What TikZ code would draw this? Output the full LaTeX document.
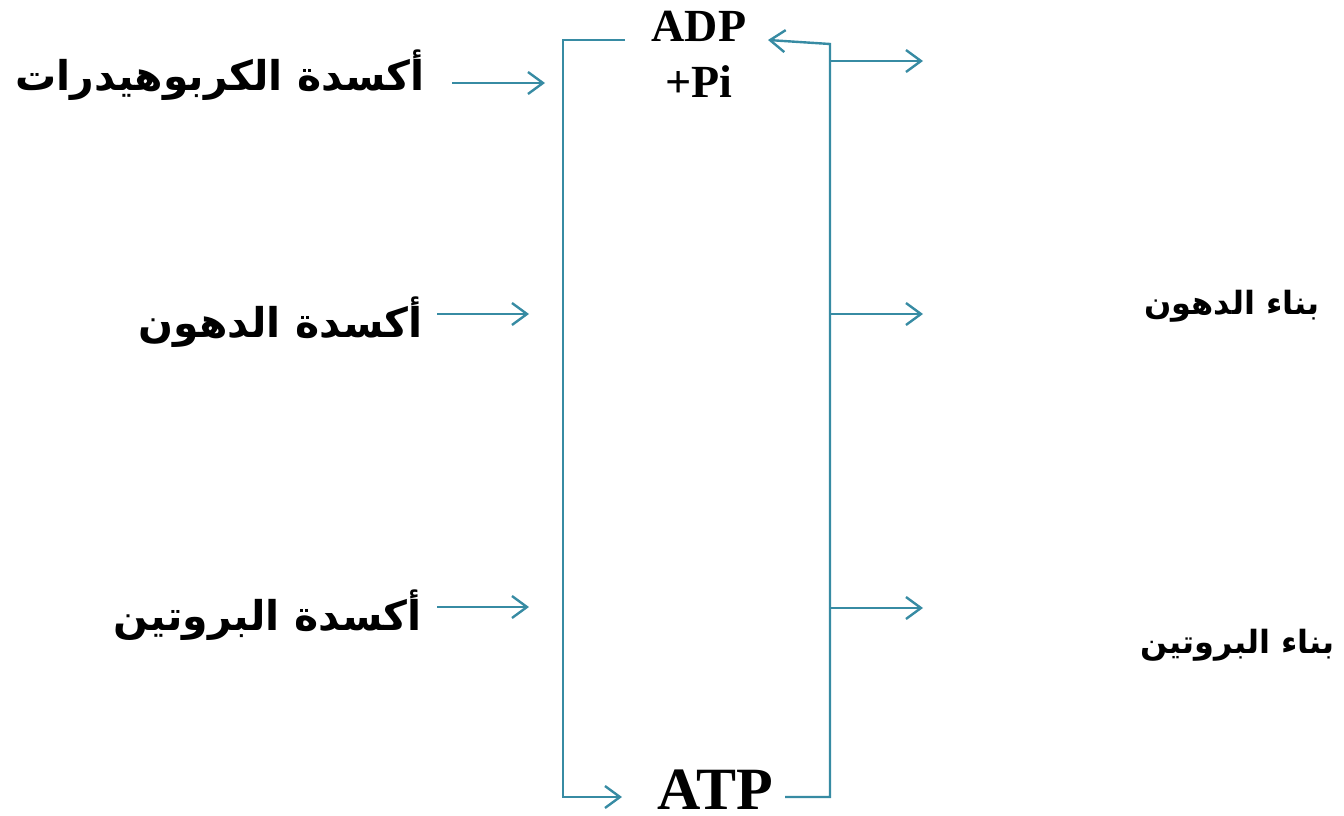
\documentclass[tikz,border=0pt]{standalone}
\usepackage{fontspec}
\setmainfont{Liberation Serif}
\newfontfamily\arabicfont[Script=Arabic]{DejaVu Sans}
\usetikzlibrary{arrows.meta}
\TeXXeTstate=1
\definecolor{teal1}{RGB}{55,139,163}
\tikzset{
  conn/.style={draw=teal1, line width=2.4pt},
  arr/.style={conn, -{Straight Barb[length=15pt,width=22pt,line width=2.4pt]}},
  arlab/.style={font=\arabicfont\bfseries\fontsize{41}{44}\selectfont, inner sep=0pt},
  arsmall/.style={font=\arabicfont\bfseries\fontsize{32}{34}\selectfont, inner sep=0pt},
  enlab/.style={font=\bfseries\fontsize{46}{50}\selectfont, inner sep=0pt},
}
\begin{document}
\begin{tikzpicture}[x=1pt,y=-1pt]
\useasboundingbox (0,0) rectangle (1344,816);
% labels
\node[arlab, anchor=east] (carb) at (425,75) {\beginR أكسدة الكربوهيدرات\endR};
\node[arlab, anchor=east] (fat) at (423,322) {\beginR أكسدة الدهون\endR};
\node[arlab, anchor=east] (prot) at (422,615) {\beginR أكسدة البروتين\endR};
\node[arsmall, anchor=east] (bfat) at (1320,306) {\beginR بناء الدهون\endR};
\node[arsmall, anchor=east] (bprot) at (1335,645) {\beginR بناء البروتين\endR};
\node[enlab] (adp) at (699,26) {ADP};
\node[enlab] (pi) at (699,82) {+Pi};
\node[font=\bfseries\fontsize{60}{64}\selectfont, inner sep=0pt, anchor=base] (atp) at (715,809) {ATP};
% coordinates
\coordinate (lt) at (625,40);
\coordinate (ltc) at (563,40);
\coordinate (lbc) at (563,797);
\coordinate (lb) at (622,797);
\coordinate (rt) at (830,44);
\coordinate (rtip) at (768,40);
\coordinate (rbc) at (830,797);
\coordinate (rb) at (785,797);
\coordinate (r1) at (830,61);
\coordinate (r2) at (830,314);
\coordinate (r3) at (830,608);
\coordinate (e1) at (923,61);
\coordinate (e2) at (923,314);
\coordinate (e3) at (923,608);
\coordinate (l1s) at (452,83);
\coordinate (l1e) at (545,83);
\coordinate (l2s) at (437,314);
\coordinate (l2e) at (529,314);
\coordinate (l3s) at (437,607);
\coordinate (l3e) at (529,607);
% connectors
\draw[arr] (lt) -- (ltc) -- (lbc) -- (lb);
\draw[arr] (rb) -- (rbc) -- (rt) -- (rtip);
\draw[arr] (r1) -- (e1);
\draw[arr] (r2) -- (e2);
\draw[arr] (r3) -- (e3);
\draw[arr] (l1s) -- (l1e);
\draw[arr] (l2s) -- (l2e);
\draw[arr] (l3s) -- (l3e);
\end{tikzpicture}
\end{document}
